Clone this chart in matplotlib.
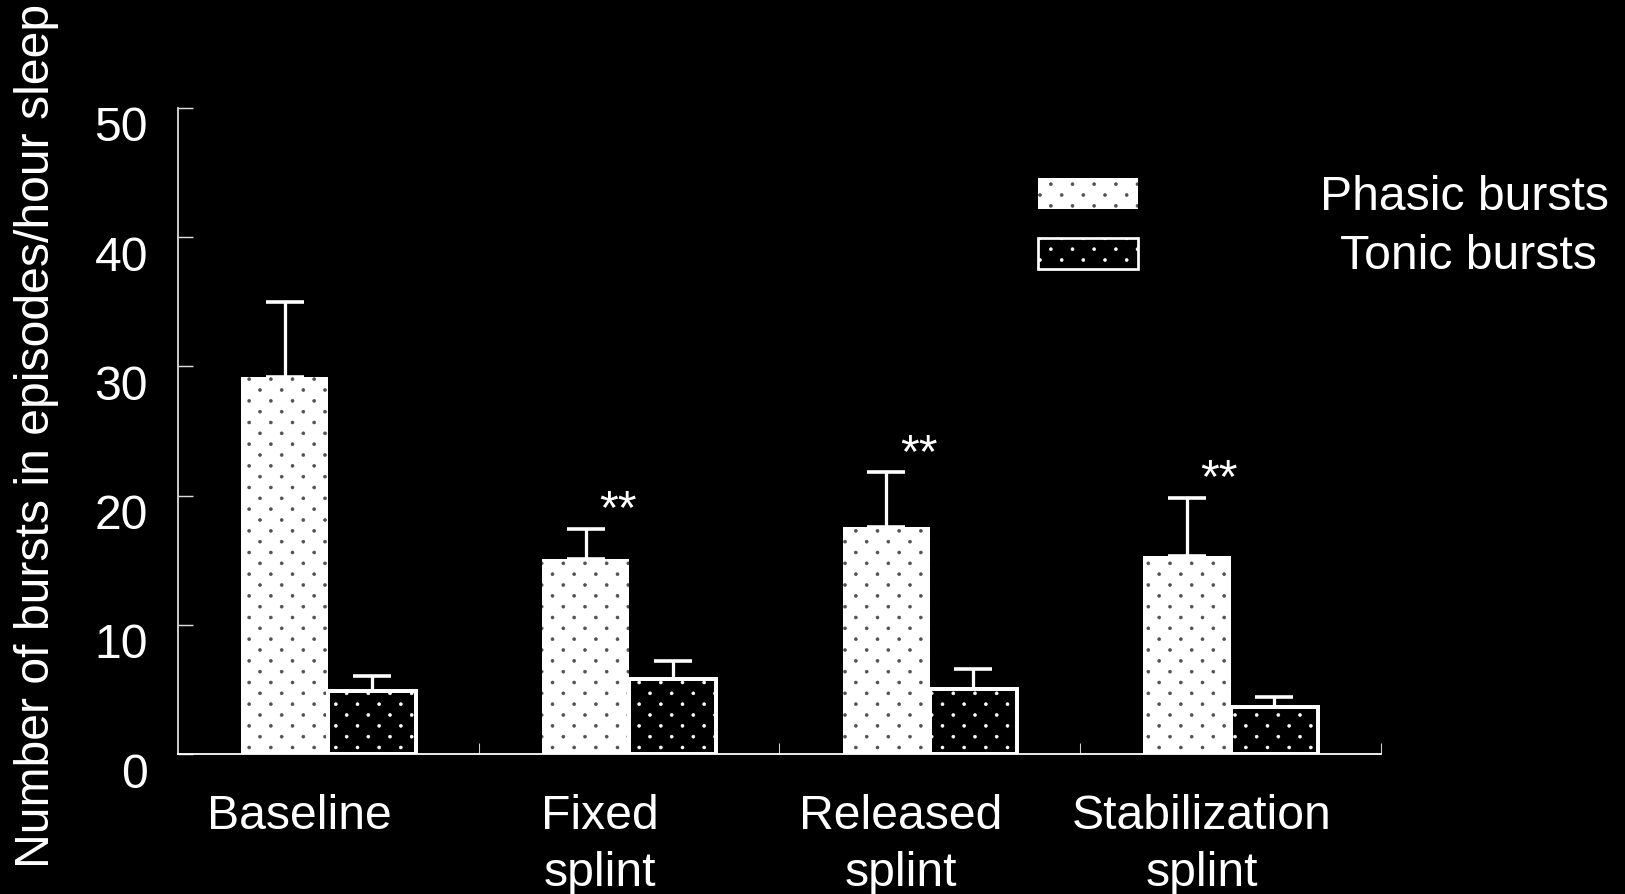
import matplotlib.pyplot as plt
import matplotlib.transforms as mtransforms
import matplotlib.hatch as mhatch
from matplotlib.patches import Rectangle
import numpy as np

# values
categories = ['Baseline', 'Fixed\nsplint', 'Released\nsplint', 'Stabilization\nsplint']
phasic_mean = [29.2, 15.1, 17.6, 15.3]
phasic_err = [5.8, 2.35, 4.2, 4.5]
tonic_mean = [4.9, 5.8, 5.0, 3.6]
tonic_err = [1.1, 1.4, 1.55, 0.8]
significant = [False, True, True, True]
series_names = ['Phasic bursts', 'Tonic bursts']


# the slide's dot fill has rows twice as close as matplotlib's '.' hatch
class DiagonalDots(mhatch.SmallFilledCircles):
    size = 0.07

    def __init__(self, hatch, density):
        super().__init__(hatch, density)
        n = self.num_rows
        if n:
            self.num_shapes = (n + 1) * (n + 1) + n * n
            self.num_vertices = self.num_shapes * len(self.shape_vertices)

    def set_vertices_and_codes(self, vertices, codes):
        n = self.num_rows
        offset = 1.0 / n
        verts = self.shape_vertices * offset * self.size
        parts, cparts = [], []
        for row in range(2 * n + 1):
            if row % 2 == 0:
                cols = np.linspace(0, 1, n + 1)
            else:
                cols = np.linspace(offset / 2, 1 - offset / 2, n)
            for c in cols:
                parts.append(verts + [c, row * offset / 2])
                cparts.append(self.shape_codes)
        np.concatenate(parts, out=vertices)
        np.concatenate(cparts, out=codes)


mhatch._hatch_types[mhatch._hatch_types.index(mhatch.SmallFilledCircles)] = DiagonalDots

plt.rcParams['font.family'] = ['Liberation Sans', 'DejaVu Sans']
plt.rcParams['hatch.linewidth'] = 0.3
fs = 26.7

fig = plt.figure(figsize=(12.5, 6.877), dpi=130, facecolor='black')
ax = fig.add_axes([0.10954, 0.15660, 0.7403, 0.72260])
ax.set_facecolor('black')

x = np.arange(len(categories)) + 0.5
w = 0.29

ax.bar(x - w / 2, phasic_mean, w, color='white', edgecolor='#505050',
       linewidth=0, hatch='.', zorder=2)
ax.bar(x + w / 2, tonic_mean, w, color='black', edgecolor='white',
       linewidth=2.2, hatch='.', zorder=2)

zeros = np.zeros(len(categories))
ax.errorbar(x - w / 2, phasic_mean, yerr=[zeros, phasic_err], fmt='none',
            ecolor='white', elinewidth=1.8, capsize=10.5, capthick=2.0, zorder=1)
ax.errorbar(x + w / 2, tonic_mean, yerr=[zeros, tonic_err], fmt='none',
            ecolor='white', elinewidth=1.8, capsize=10.5, capthick=2.0, zorder=1)

for i in range(len(categories)):
    if significant[i]:
        ax.text(x[i] - w / 2 + 0.107, phasic_mean[i] + phasic_err[i] + 0.45, '**',
                color='white', fontsize=fs, ha='center', va='baseline')

ax.set_xlim(0, 4)
ax.set_ylim(0, 50)
ax.set_yticks([0, 10, 20, 30, 40, 50])
ax.set_xticks(x)
ax.set_xticklabels(categories, linespacing=1.35)
ax.set_xticks([1, 2, 3, 4], minor=True)

ax.tick_params(axis='y', direction='in', length=8.5, width=0.8, color='#dddddd',
               labelcolor='white', labelsize=fs, pad=16.6)
ax.tick_params(axis='x', which='major', length=0, labelcolor='white',
               labelsize=fs, pad=22)
ax.tick_params(axis='x', which='minor', direction='in', length=6, width=0.6,
               color='#cccccc')

for s in ['top', 'right']:
    ax.spines[s].set_visible(False)
ax.spines['left'].set_color('#dddddd')
ax.spines['bottom'].set_color('white')
ax.spines['left'].set_linewidth(1.0)
ax.spines['bottom'].set_linewidth(1.0)

# shift tick labels like the original slide
dy = mtransforms.ScaledTranslation(0, -16 / 130, fig.dpi_scale_trans)
for lab in ax.get_yticklabels():
    lab.set_transform(lab.get_transform() + dy)
dx = mtransforms.ScaledTranslation(-29 / 130, 0, fig.dpi_scale_trans)
for lab in ax.get_xticklabels():
    lab.set_transform(lab.get_transform() + dx)

fig.text(37 / 1625, 1 - 436 / 894, 'Number of bursts in episodes/hour sleep',
         rotation=90, color='white', fontsize=fs, ha='center', va='center')

# legend drawn by hand: swatch on the left, centred text on the right
fig.add_artist(Rectangle((1038 / 1625, 1 - 209 / 894), 100 / 1625, 31 / 894,
                         transform=fig.transFigure, facecolor='white',
                         edgecolor='#505050', linewidth=0, hatch='.'))
fig.add_artist(Rectangle((1038 / 1625, 1 - 269 / 894), 100 / 1625, 31 / 894,
                         transform=fig.transFigure, facecolor='black',
                         edgecolor='white', linewidth=1.5, hatch='.'))
fig.text(1465 / 1625, 1 - 210 / 894, series_names[0], color='white',
         fontsize=fs, ha='center', va='baseline')
fig.text(1468 / 1625, 1 - 269 / 894, series_names[1], color='white',
         fontsize=fs, ha='center', va='baseline')

fig.savefig('out.png', dpi=130, facecolor='black')
